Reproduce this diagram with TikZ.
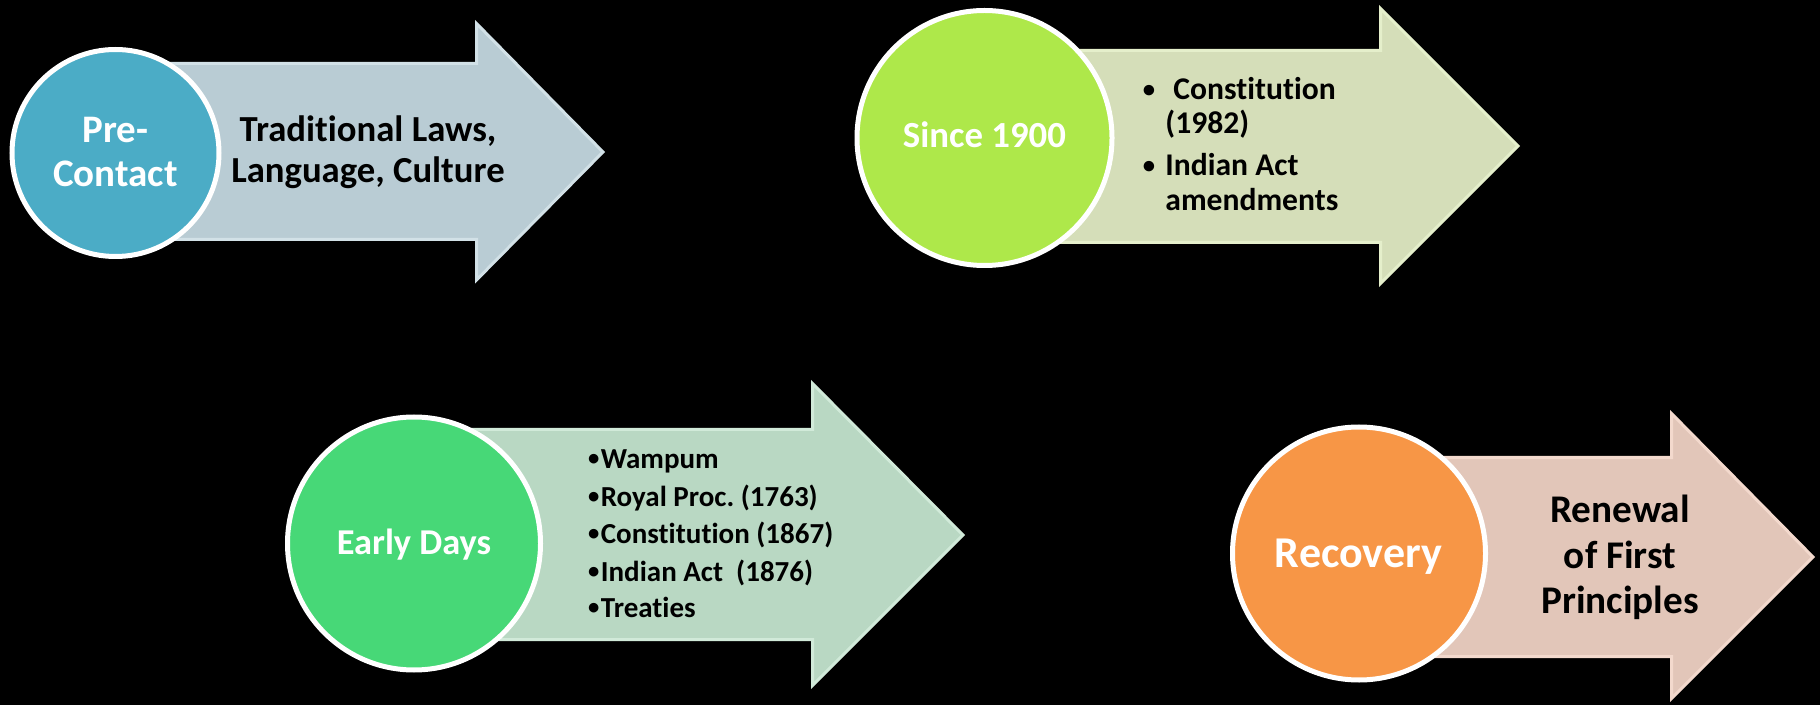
\documentclass[tikz,border=0pt]{standalone}
\usepackage{fontspec}
\setmainfont{Carlito}[Ligatures=NoCommon]
\frenchspacing
\definecolor{cOne}{HTML}{4BACC6}
\definecolor{aOneF}{HTML}{B9CCD4}
\definecolor{aOneD}{HTML}{D2E1E7}
\definecolor{cTwo}{HTML}{AEE84A}
\definecolor{aTwoF}{HTML}{D5DEB9}
\definecolor{aTwoD}{HTML}{E5EFCB}
\definecolor{cThree}{HTML}{47D877}
\definecolor{aThreeF}{HTML}{B9D8C3}
\definecolor{aThreeD}{HTML}{D1EAD9}
\definecolor{cFour}{HTML}{F79646}
\definecolor{aFourF}{HTML}{E2C6B9}
\definecolor{aFourD}{HTML}{F3D9CD}
\newcommand{\smbul}{\makebox[0.5em][c]{\raisebox{0.09em}{\scalebox{0.78}{•}}}}
\begin{document}
\begin{tikzpicture}[x=0.5pt,y=-0.5pt,
  disc/.style={circle, draw=white, line width=2.5pt, inner sep=0pt},
  bigarrow/.style={line width=1.5pt, line join=miter},
  wlbl/.style={inner sep=0pt, anchor=base, text=white},
  blbl/.style={inner sep=0pt, anchor=base, text=black},
  blist/.style={inner sep=0pt, anchor=base west, text=black},
  every node/.append style={font=\bfseries}
]
\path[fill=black, use as bounding box] (0,0) rectangle (1820,705);

% ---- group 1: Pre-Contact
\draw[bigarrow, fill=aOneF, draw=aOneD] (115,63.5) -- (476.5,63.5) -- (476.5,23.5) -- (603,152) -- (476.5,280) -- (476.5,239.5) -- (115,239.5) -- cycle;
\node[disc, fill=cOne, minimum size=103.5pt] (c1) at (115.5,153) {};
\node[wlbl, font=\bfseries\fontsize{19.5}{23}\selectfont] (c1a) at (115.5,143) {Pre-};
\node[wlbl, font=\bfseries\fontsize{19.5}{23}\selectfont] (c1b) at (115.5,187) {Contact};
\node[blbl, font=\bfseries\fontsize{18.35}{22}\selectfont] (t1a) at (368,142) {Traditional Laws,};
\node[blbl, font=\bfseries\fontsize{18.35}{22}\selectfont] (t1b) at (368,183) {Language, Culture};

% ---- group 2: Since 1900
\draw[bigarrow, fill=aTwoF, draw=aTwoD] (985,50.5) -- (1380.5,50.5) -- (1380.5,8.5) -- (1518,146) -- (1380.5,283.5) -- (1380.5,242.5) -- (985,242.5) -- cycle;
\node[disc, fill=cTwo, minimum size=127.5pt] (c2) at (984.5,138) {};
\node[wlbl, font=\bfseries\fontsize{18.4}{22}\selectfont] (c2a) at (984.5,148) {Since 1900};
\node[blbl, font=\bfseries\fontsize{15.8}{19}\selectfont] (b2a) at (1149,100) {\smbul};
\node[blist, font=\bfseries\fontsize{15.8}{19}\selectfont] (t2a) at (1173,100) {Constitution};
\node[blist, font=\bfseries\fontsize{15.8}{19}\selectfont] (t2b) at (1165,134) {(1982)};
\node[blbl, font=\bfseries\fontsize{15.8}{19}\selectfont] (b2b) at (1149,176) {\smbul};
\node[blist, font=\bfseries\fontsize{15.8}{19}\selectfont] (t2c) at (1165,176) {Indian Act};
\node[blist, font=\bfseries\fontsize{15.8}{19}\selectfont] (t2d) at (1165,211) {amendments};

% ---- group 3: Early Days
\draw[bigarrow, fill=aThreeF, draw=aThreeD] (414,429.5) -- (812.5,429.5) -- (812.5,383.5) -- (963,535) -- (812.5,685.5) -- (812.5,639.5) -- (414,639.5) -- cycle;
\node[disc, fill=cThree, minimum size=126.5pt] (c3) at (414,543.5) {};
\node[wlbl, font=\bfseries\fontsize{18.2}{22}\selectfont] (c3a) at (414,554) {Early Days};
\node[blist, font=\bfseries\fontsize{14.5}{17}\selectfont] (t3a) at (586,468) {\smbul Wampum};
\node[blist, font=\bfseries\fontsize{14.5}{17}\selectfont] (t3b) at (586,506) {\smbul Royal Proc. (1763)};
\node[blist, font=\bfseries\fontsize{14.5}{17}\selectfont] (t3c) at (586,543) {\smbul Constitution (1867)};
\node[blist, font=\bfseries\fontsize{14.5}{17}\selectfont] (t3d) at (586,581) {\smbul Indian Act\ \ (1876)};
\node[blist, font=\bfseries\fontsize{14.5}{17}\selectfont] (t3e) at (586,617) {\smbul Treaties};

% ---- group 4: Recovery
\draw[bigarrow, fill=aFourF, draw=aFourD] (1359,457.5) -- (1671.5,457.5) -- (1671.5,413.5) -- (1813,557) -- (1671.5,698.5) -- (1671.5,656.5) -- (1359,656.5) -- cycle;
\node[disc, fill=cFour, minimum size=126.5pt] (c4) at (1359,553.5) {};
\node[wlbl, font=\bfseries\fontsize{22}{26}\selectfont] (c4a) at (1358.5,567) {Recovery};
\node[blbl, font=\bfseries\fontsize{19.6}{23}\selectfont] (t4a) at (1620,522) {Renewal};
\node[blbl, font=\bfseries\fontsize{19.6}{23}\selectfont] (t4b) at (1620,568) {of First};
\node[blbl, font=\bfseries\fontsize{19.6}{23}\selectfont] (t4c) at (1620,613) {Principles};
\end{tikzpicture}
\end{document}
